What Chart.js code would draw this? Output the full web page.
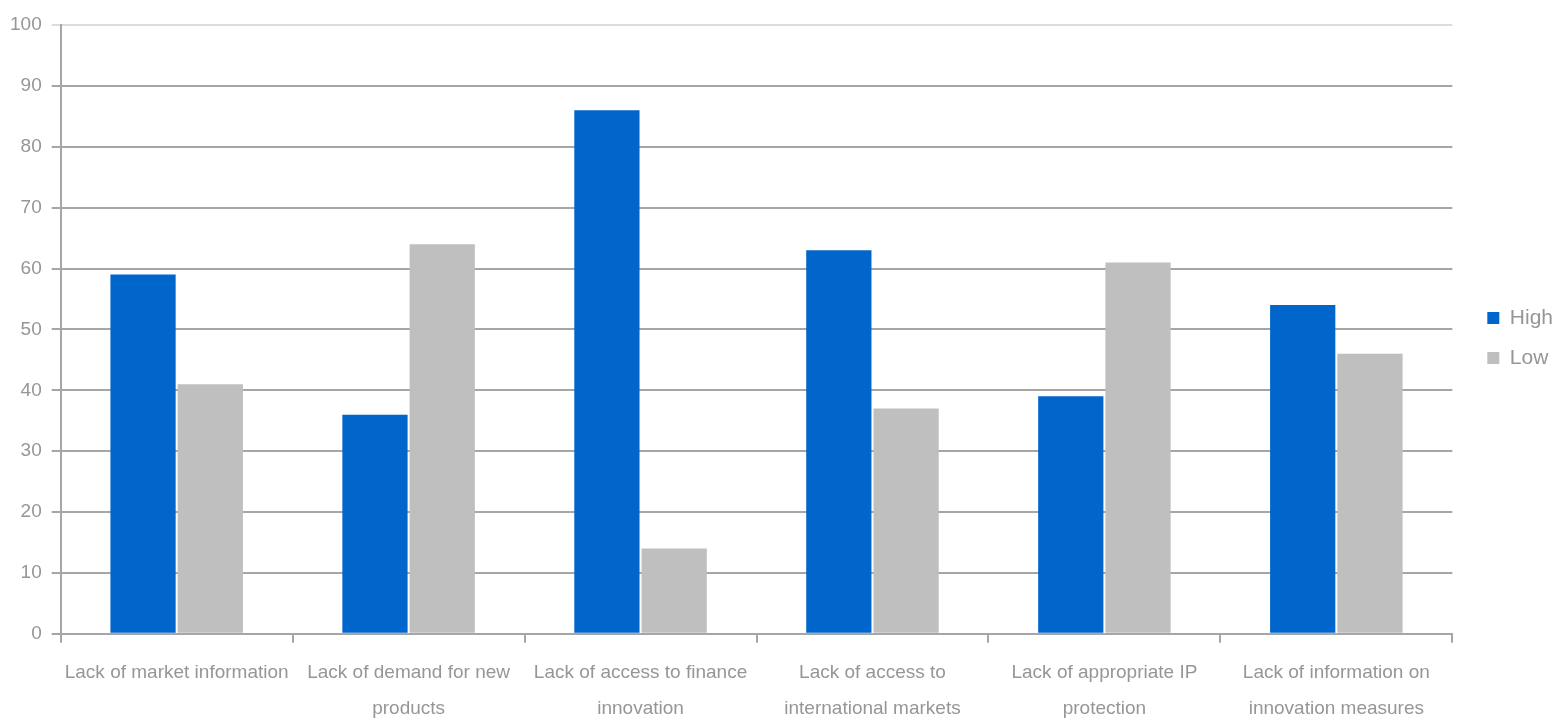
<!DOCTYPE html>
<html>
<head>
<meta charset="utf-8">
<script src="https://cdn.jsdelivr.net/npm/chart.js@4.4.1/dist/chart.umd.min.js"></script>
<style>
  html, body { margin: 0; padding: 0; background: #fff; overflow: hidden; }
  #wrap { width: 1554px; height: 739px; }
</style>
</head>
<body>
<div id="wrap"><canvas id="chart"></canvas></div>
<script>
const categories = [
  ['Lack of market information'],
  ['Lack of demand for new', 'products'],
  ['Lack of access to finance', 'innovation'],
  ['Lack of access to', 'international markets'],
  ['Lack of appropriate IP', 'protection'],
  ['Lack of information on', 'innovation measures']
];
const highValues = [59, 36, 86, 63, 39, 54];
const lowValues = [41, 64, 14, 37, 61, 46];
const yTicks = [0, 10, 20, 30, 40, 50, 60, 70, 80, 90, 100];

const fontFamily = '"Liberation Sans", Arial, sans-serif';
const gray = '#a6a6a6';
const textGray = '#969696';

// nudge the legend to where the original sits (right of plot, a bit above centre)
const legendShift = {
  id: 'legendShift',
  afterLayout(chart) {
    const lg = chart.legend;
    lg.left += 16; lg.right += 16;
    lg.top -= 44; lg.bottom -= 44;
  }
};

const ctx = document.getElementById('chart').getContext('2d');
const chart = new Chart(ctx, {
  type: 'bar',
  data: {
    labels: categories,
    datasets: [
      { label: 'High', data: highValues, backgroundColor: '#0066cc', categoryPercentage: 0.58, barPercentage: 0.97 },
      { label: 'Low', data: lowValues, backgroundColor: '#bfbfbf', categoryPercentage: 0.58, barPercentage: 0.97 }
    ]
  },
  plugins: [legendShift],
  options: {
    responsive: true,
    maintainAspectRatio: false,
    animation: false,
    layout: { padding: { top: 25, right: 7, bottom: 0, left: 0 } },
    plugins: {
      tooltip: { enabled: false },
      legend: {
        position: 'right',
        labels: {
          boxWidth: 12,
          boxHeight: 12,
          padding: 19,
          color: textGray,
          font: { family: fontFamily, size: 21 }
        }
      }
    },
    scales: {
      x: {
        offset: true,
        grid: { offset: true, drawOnChartArea: false, drawTicks: true, tickLength: 9, color: gray, lineWidth: 2 },
        border: { color: gray, width: 2 },
        ticks: {
          color: textGray,
          padding: 12,
          maxRotation: 0,
          font: { family: fontFamily, size: 19, lineHeight: 1.9 }
        }
      },
      y: {
        min: 0,
        max: 100,
        afterBuildTicks: (axis) => { axis.ticks = yTicks.map(v => ({ value: v })); },
        grid: {
          color: (c) => c.tick && c.tick.value === 100 ? '#dcdcdc' : gray,
          lineWidth: 2,
          tickLength: 9
        },
        border: { color: gray, width: 2 },
        ticks: {
          color: textGray,
          padding: 10,
          font: { family: fontFamily, size: 19 }
        }
      }
    }
  }
});
</script>
</body>
</html>
